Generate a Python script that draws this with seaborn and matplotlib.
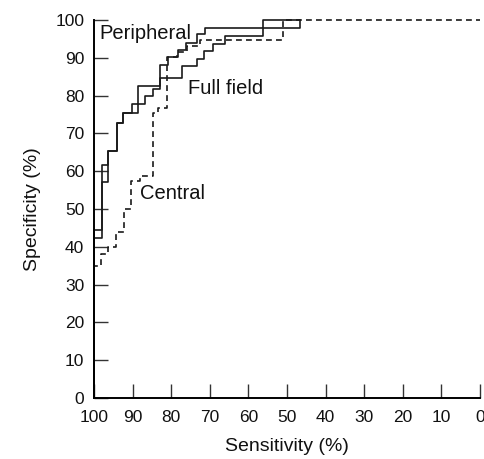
import matplotlib
matplotlib.use("Agg")
import matplotlib.pyplot as plt
import seaborn as sns
import pandas as pd

# Data (sensitivity %, specificity %) — step vertices
full_sens = [100, 100, 98.0, 96.3, 94.1, 92.4, 90.2, 88.5, 82.9, 77.1, 73.4, 71.5, 69.1, 66.1, 56.2, 46.6]
full_spec = [0, 44.4, 61.6, 65.4, 72.7, 75.3, 77.8, 82.5, 84.6, 87.8, 89.8, 91.8, 93.6, 95.8, 97.9, 100]

peri_sens = [100, 100, 98.0, 96.3, 94.1, 92.4, 88.5, 86.8, 84.6, 82.9, 80.8, 78.2, 76.2, 73.4, 71.2, 56.2, 46.6]
peri_spec = [0, 42.3, 57.2, 65.4, 72.7, 75.3, 77.8, 79.9, 81.7, 88.0, 90.2, 92.1, 94.0, 96.2, 97.9, 100, 100]

cent_sens = [100, 100, 98.2, 96.5, 94.3, 92.2, 90.5, 88.0, 84.7, 83.3, 81.2, 78.5, 76.0, 72.5, 51.0, 0]
cent_spec = [0, 35.0, 38.0, 40.0, 44.0, 50.0, 57.5, 58.8, 75.4, 76.7, 90.3, 91.5, 93.0, 94.7, 100, 100]

x_ticks = [100, 90, 80, 70, 60, 50, 40, 30, 20, 10, 0]
y_ticks = [0, 10, 20, 30, 40, 50, 60, 70, 80, 90, 100]

df = pd.concat([
    pd.DataFrame({"sens": full_sens, "spec": full_spec, "test": "Full field"}),
    pd.DataFrame({"sens": peri_sens, "spec": peri_spec, "test": "Peripheral"}),
    pd.DataFrame({"sens": cent_sens, "spec": cent_spec, "test": "Central"}),
], ignore_index=True)

sns.set_theme(style="ticks")
plt.rcParams["font.family"] = ["Liberation Sans", "DejaVu Sans"]

fig = plt.figure(figsize=(4.85, 4.59), dpi=100)
ax = fig.add_axes([94 / 485, 1 - 398 / 459, (480 - 94) / 485, (398 - 20) / 459])

sns.lineplot(
    data=df, x="sens", y="spec", hue="test", style="test",
    palette={"Full field": "#1a1a1a", "Peripheral": "#1a1a1a", "Central": "#1a1a1a"},
    dashes={"Full field": "", "Peripheral": "", "Central": (3.5, 2.5)},
    sort=False, estimator=None, drawstyle="steps-post",
    linewidth=1.2, legend=False, ax=ax,
)
for ln in ax.lines:
    ln.set_clip_on(False)

ax.set_xlim(100, 0)
ax.set_ylim(0, 100)
ax.set_xticks(x_ticks)
ax.set_yticks(y_ticks)
ax.set_xticklabels([str(v) for v in x_ticks])
ax.set_yticklabels([str(v) for v in y_ticks])
sns.despine(ax=ax)
for s in ("left", "bottom"):
    ax.spines[s].set_linewidth(1.4)
    ax.spines[s].set_color("black")
ax.tick_params(direction="in", length=10, width=1.0, color="#333333",
               labelsize=12.5, labelcolor="#111111")
ax.tick_params(axis="x", pad=9)
ax.tick_params(axis="y", pad=7)

ax.set_xlabel("Sensitivity (%)", fontsize=14, labelpad=9, color="#111111")
ax.set_ylabel("Specificity (%)", fontsize=14, labelpad=10, color="#111111")

ax.text(98.5, 96.5, "Peripheral", fontsize=14.5, va="center", ha="left", color="#111111")
ax.text(75.6, 82.0, "Full field", fontsize=14.5, va="center", ha="left", color="#111111")
ax.text(88.1, 54.2, "Central", fontsize=14.5, va="center", ha="left", color="#111111")

fig.savefig("out.png", dpi=100)
